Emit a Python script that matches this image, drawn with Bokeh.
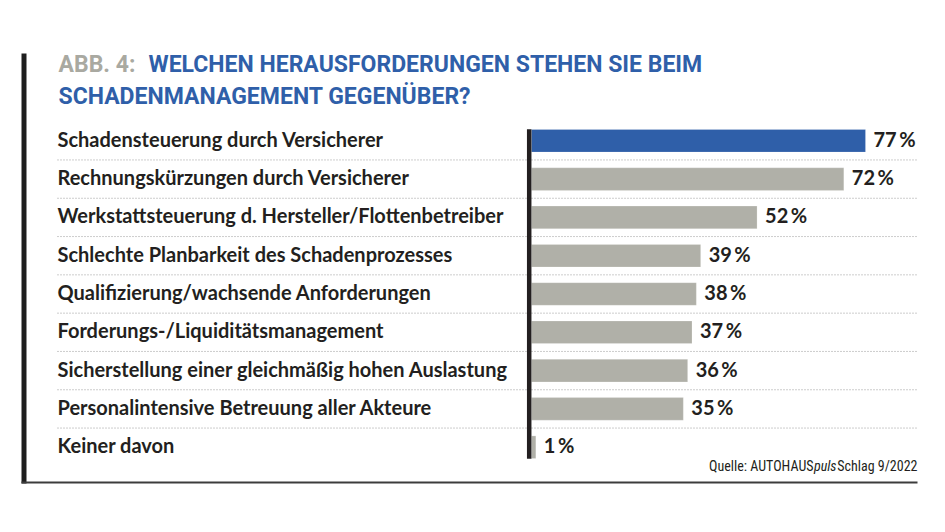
from bokeh.plotting import figure
from bokeh.models import Range1d, ColumnDataSource
from bokeh.core.properties import value
from bokeh.embed import file_html
from bokeh.resources import INLINE

# ---------------- data ----------------
categories = [
    "Schadensteuerung durch Versicherer",
    "Rechnungskürzungen durch Versicherer",
    "Werkstattsteuerung d. Hersteller/Flottenbetreiber",
    "Schlechte Planbarkeit des Schadenprozesses",
    "Qualifizierung/wachsende Anforderungen",
    "Forderungs-/Liquiditätsmanagement",
    "Sicherstellung einer gleichmäßig hohen Auslastung",
    "Personalintensive Betreuung aller Akteure",
    "Keiner davon",
]
values = [77, 72, 52, 39, 38, 37, 36, 35, 1]
title_prefix = "ABB. 4:"
title_line1 = "WELCHEN HERAUSFORDERUNGEN STEHEN SIE BEIM"
title_line2 = "SCHADENMANAGEMENT GEGENÜBER?"
source_parts = ["Quelle: AUTOHAUS", "puls", "Schlag 9/2022"]

# ---------------- styling ----------------
BLUE = "#2f5fa9"
GRAY_BAR = "#b0b0a8"
GRAY_TITLE = "#a9a9a1"
DARK = "#231f20"
FONT = "Lato"
TITLE_FONT = "Roboto"
COND = "'Roboto Condensed', 'DejaVu Sans Condensed', Roboto, sans-serif"

W, H = 929, 516
PX_PER_PCT = 4.3377          # horizontal scale of bars
ZERO_PX = 531                # page x of the bar baseline
ROW0_PX = 140.3              # page y of the first row centre
ROW_STEP = 38.3              # row pitch in px
TXT_SHIFT = -8               # text baseline correction

pct_start = -ZERO_PX / PX_PER_PCT
row_end = -ROW0_PX / ROW_STEP

p = figure(
    width=W, height=H, output_backend="svg", toolbar_location=None,
    x_range=Range1d(0, W), y_range=Range1d(H, 0),
    min_border=0, outline_line_color=None,
)
p.axis.visible = False
p.grid.visible = False
p.background_fill_color = "white"
p.border_fill_color = "white"
p.extra_x_ranges = {"pct": Range1d(pct_start, pct_start + W / PX_PER_PCT)}
p.extra_y_ranges = {"row": Range1d(row_end + H / ROW_STEP, row_end)}

n = len(categories)
idx = list(range(n))
colors = [BLUE] + [GRAY_BAR] * (n - 1)
src = ColumnDataSource(dict(
    y=idx, v=values, cat=categories, color=colors,
    lab=[f"{v}\u2009%" for v in values],
))

# dotted row separators
sep = ColumnDataSource(dict(y=[i + 0.5 for i in idx[:-1]]))
p.segment(x0=57, x1=917, y0="y", y1="y", source=sep, y_range_name="row",
          line_color="#9a9a9a", line_width=1, line_dash="1 2")

# bars
p.hbar(y="y", left=0, right="v", height=0.59, color="color", source=src,
       x_range_name="pct", y_range_name="row",
       line_color="white", line_alpha=0.4, line_width=0.5)

# bar baseline (thick black axis line)
p.segment(x0=[528.7], x1=[528.7], y0=[-0.3], y1=[n - 1 + 0.3],
          y_range_name="row", line_color=DARK, line_width=4.5)

# category labels
p.text(x=57, y="y", text="cat", source=src, y_range_name="row",
       text_font=value(FONT), text_font_style="bold", text_font_size="20px",
       text_color=DARK, text_baseline="alphabetic", text_align="left",
       y_offset=6 + TXT_SHIFT)

# value labels
p.text(x="v", y="y", text="lab", source=src, x_range_name="pct",
       y_range_name="row", x_offset=8, y_offset=6 + TXT_SHIFT,
       text_font=value(FONT), text_font_style="bold", text_font_size="20px",
       text_color=DARK, text_baseline="alphabetic", text_align="left")

# frame: left thick bar and bottom rule
p.segment(x0=[23.5], x1=[23.5], y0=[53], y1=[483], line_color="#1e1e1e",
          line_width=5)
p.segment(x0=[21], x1=[917], y0=[482], y1=[482], line_color="#3c3c3c",
          line_width=2)

# title
for x, y, t, c in [(58, 72, title_prefix, GRAY_TITLE),
                   (148, 72, title_line1, BLUE),
                   (58, 103.5, title_line2, BLUE)]:
    p.text(x=[x], y=[y], text=[t], text_font=value(TITLE_FONT),
           text_font_style="bold", text_font_size="23px", text_color=c,
           text_baseline="alphabetic", y_offset=TXT_SHIFT)

# source (chained right-aligned pieces)
p.text(x=[917], y=[473], text=[source_parts[2]], text_font=value(COND),
       text_font_size="14px", text_color=DARK, text_baseline="alphabetic",
       text_align="right", y_offset=TXT_SHIFT)
p.text(x=[836], y=[473], text=[source_parts[1]], text_font=value(COND),
       text_font_style="italic", text_font_size="14px", text_color=DARK,
       text_baseline="alphabetic", text_align="right", y_offset=TXT_SHIFT)
p.text(x=[813], y=[473], text=[source_parts[0]], text_font=value(COND),
       text_font_size="14px", text_color=DARK, text_baseline="alphabetic",
       text_align="right", y_offset=TXT_SHIFT)

open("out.html", "w").write(file_html(p, INLINE))
